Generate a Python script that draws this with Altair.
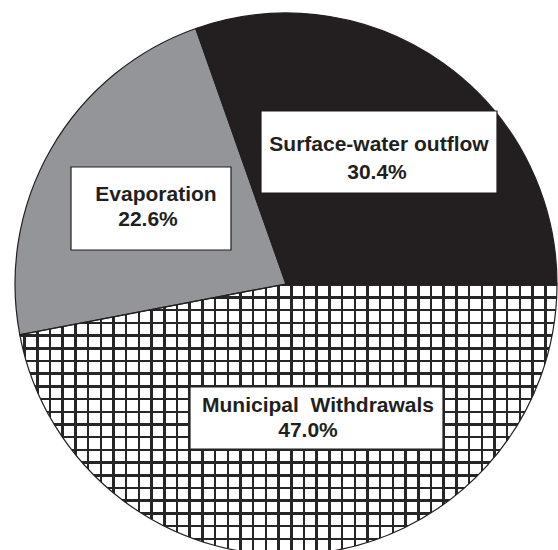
import math
import altair as alt
import pandas as pd

# Water budget shares (percent)
parts = ["Municipal Withdrawals", "Evaporation", "Surface-water outflow"]
shares = [47.0, 22.6, 30.4]
fills = ["#ffffff", "#939598", "#231f20"]

# Label layout: box corners and text anchors (pixels)
box_x = [190, 71, 261]
box_x2 = [443, 231, 497]
box_y = [387, 167, 111]
box_y2 = [449, 250, 193]
name_x = [318, 156, 379]
name_y = [412, 201, 151]
pct_x = [308, 148, 377]
pct_y = [437, 226, 179]
name_text = ["Municipal\u00a0 Withdrawals", "Evaporation", "Surface-water outflow"]

W, H = 558, 550
CX, CY, R = 286, 284, 271
INK = "#231f20"

pie_df = pd.DataFrame({"part": parts, "share": shares, "order": range(len(parts))})

theta_scale = alt.Scale(domain=[0, 100], range=[math.pi / 2, math.pi / 2 + 2 * math.pi])

base = (
    alt.Chart(pie_df)
    .transform_window(end="sum(share)", sort=[alt.SortField("order")], frame=[None, 0])
    .transform_calculate(start="datum.end - datum.share")
)

arc_enc = dict(
    theta=alt.Theta("start:Q", scale=theta_scale),
    theta2="end:Q",
    x=alt.value(CX),
    y=alt.value(CY),
)

slices = base.mark_arc(radius=R, strokeWidth=0).encode(
    color=alt.Color("part:N", scale=alt.Scale(domain=parts, range=fills), legend=None),
    **arc_enc,
)


def grid_gradient(size, period, offset, width, horizontal):
    """Hard-stop gradient giving evenly spaced dark lines over a clear ground."""
    clear = "rgba(255,255,255,0)"
    line = "#262626"
    stops = [{"offset": 0, "color": clear}]
    c = offset
    while c < size:
        a = max((c - width / 2) / size, 0)
        b = min((c + width / 2) / size, 1)
        stops += [
            {"offset": a, "color": clear},
            {"offset": a, "color": line},
            {"offset": b, "color": line},
            {"offset": b, "color": clear},
        ]
        c += period
    stops.append({"offset": 1, "color": clear})
    if horizontal:
        return alt.LinearGradient(gradient="linear", stops=stops, x1=0, x2=1, y1=0, y2=0)
    return alt.LinearGradient(gradient="linear", stops=stops, x1=0, x2=0, y1=0, y2=1)


# bounding box of the crosshatched slice
bx0 = CX - R * math.sin(math.radians(100.8))
bw = CX + R - bx0
bh = R
period = 12.7

hatch = base.transform_filter(alt.datum.part == parts[0])
vlines = hatch.mark_arc(
    radius=R, strokeWidth=0,
    fill=grid_gradient(bw, period, 4.8, 2.5, True),
).encode(**arc_enc)
hlines = hatch.mark_arc(
    radius=R, strokeWidth=0,
    fill=grid_gradient(bh, period, 0.8, 2.5, False),
).encode(**arc_enc)

outline = base.mark_arc(
    radius=R, fill="transparent", stroke=INK, strokeWidth=1.2
).encode(**arc_enc)

lab_df = pd.DataFrame({
    "x": box_x, "x2": box_x2, "y": box_y, "y2": box_y2,
    "nx": name_x, "ny": name_y, "px": pct_x, "py": pct_y,
    "name": name_text, "share": shares,
})
lab = alt.Chart(lab_df).transform_calculate(pct="format(datum.share, '.1f') + '%'")

boxes = lab.mark_rect(fill="white", stroke=INK, strokeWidth=1.2).encode(
    x=alt.X("x:Q", scale=None), x2="x2:Q",
    y=alt.Y("y:Q", scale=None), y2="y2:Q",
)
txt_style = dict(font="Liberation Sans", fontSize=21, fontWeight="bold",
                 color=INK, align="center", baseline="alphabetic")
names = lab.mark_text(**txt_style).encode(
    x=alt.X("nx:Q", scale=None), y=alt.Y("ny:Q", scale=None), text="name:N"
)
pcts = lab.mark_text(**txt_style).encode(
    x=alt.X("px:Q", scale=None), y=alt.Y("py:Q", scale=None), text="pct:N"
)

chart = (
    alt.layer(slices, vlines, hlines, outline, boxes, names, pcts)
    .properties(width=W, height=H, padding=0, autosize=alt.AutoSizeParams(type="none"),
                background="white")
    .configure_view(stroke=None)
)

chart.save("out.html", embed_options={"renderer": "svg", "actions": False})
